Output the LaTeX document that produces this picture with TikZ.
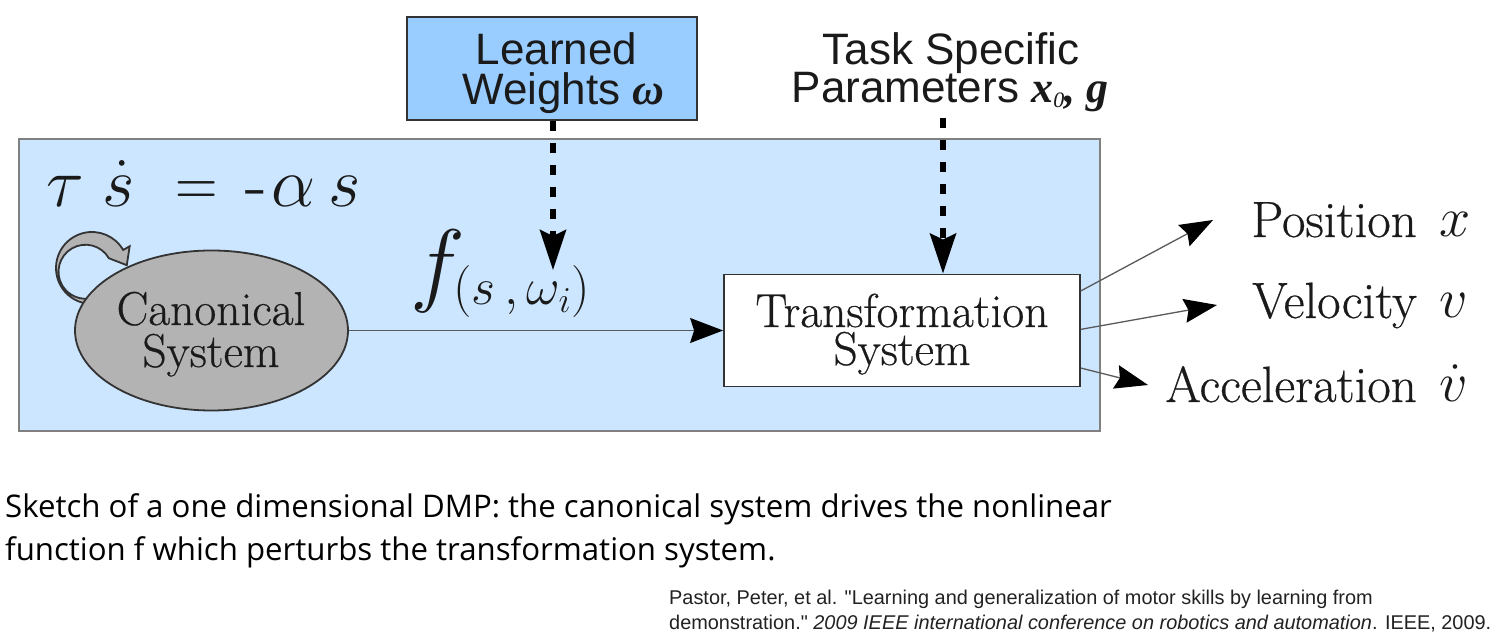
\RequirePackage{fix-cm}
\documentclass[tikz,border=0pt]{standalone}
\usepackage{fontspec}
\usepackage{amsmath}
\usepackage{graphicx}
\usetikzlibrary{arrows.meta,shapes.geometric,calc}
\newfontfamily\arialf{Liberation Sans}
\newfontfamily\timesf{Liberation Serif}
\newfontfamily\capf{Open Sans}
\newfontfamily\lmserif{Latin Modern Roman}[FakeBold=0.5]
\definecolor{bgblue}{HTML}{CCE6FF}
\definecolor{boxblue}{HTML}{99CCFF}
\definecolor{ellgray}{HTML}{B3B3B3}
\definecolor{edgec}{HTML}{333333}
\definecolor{framec}{HTML}{808080}
\definecolor{linec}{HTML}{5A5A5A}
\definecolor{txt}{HTML}{1A1A1A}
\definecolor{reftxt}{HTML}{222222}
\tikzset{
  sanslbl/.style={inner sep=0pt, text=txt, font=\arialf\fontsize{44}{44}\selectfont},
  seriflbl/.style={inner sep=0pt, text=txt, font=\lmserif\fontsize{47.5}{47.5}\selectfont},
  outlbl/.style={inner sep=0pt, text=txt, font=\lmserif\fontsize{51}{51}\selectfont, anchor=base east},
  dasharrow/.style={line width=5.5pt, dash pattern=on 10pt off 12pt, -{Stealth[length=40pt,width=26pt,inset=6pt]}},
  flowarrow/.style={draw=linec, line width=1.3pt, -{Stealth[length=33pt,width=25pt,inset=4pt,color=black]}},
  outarrow/.style={draw=linec, line width=1.3pt, -{Stealth[length=33pt,width=24pt,inset=4pt,color=black]}},
  boxstyle/.style={draw=edgec, line width=1.8pt, inner sep=0pt},
  captxt/.style={inner sep=0pt, anchor=base west, text=black, font=\capf\fontsize{31.2}{31.2}\selectfont},
  reftext/.style={inner sep=0pt, anchor=base west, text=reftxt, font=\arialf\fontsize{19.9}{19.9}\selectfont},
}
\begin{document}
\begin{tikzpicture}[x=1pt,y=1pt]
\useasboundingbox (0,0) rectangle (1502,642);
\fill[white] (0,0) rectangle (1502,642);
% frame
\node[draw=framec, line width=1.5pt, fill=bgblue, minimum width=1081pt, minimum height=292pt, inner sep=0pt, anchor=south west] (frame) at (18,210) {};
% self loop arrow
\path[fill=ellgray, draw=edgec, line width=1.8pt]
  ([shift={(92,374)}]285:36) arc[start angle=285,end angle=30,radius=36]
  -- ([shift={(92,374)}]30:43.5) -- (126.8,376.8) -- ([shift={(92,374)}]30:19.5)
  arc[start angle=30,end angle=285,radius=27] -- cycle;
% canonical system
\node[ellipse, boxstyle, fill=ellgray, minimum width=273pt, minimum height=160pt] (C) at (211.5,311.5) {};
\node[seriflbl, anchor=base] (C1) at (211,317) {Canonical};
\node[seriflbl, anchor=base] (C2) at (211,275) {System};
% transformation system
\node[boxstyle, fill=white, minimum width=356pt, minimum height=112pt] (T) at (902,311.5) {};
\node[seriflbl, anchor=base] (T1) at (902,315) {Transformation};
\node[seriflbl, anchor=base] (T2) at (902,277) {System};
% learned weights
\node[boxstyle, fill=boxblue, minimum width=290pt, minimum height=103pt] (LW) at (552,573.5) {};
\node[sanslbl, anchor=base] (LW1) at (556.5,577) {Learned};
\node[sanslbl, anchor=base] (LW2) at (563.5,537) {Weights {\timesf\bfseries\itshape ω}};
% task specific
\node[sanslbl, anchor=base] (TS1) at (951,577) {Task Specific};
\node[sanslbl, anchor=base] (TS2) at (950,539) {Parameters {\timesf\bfseries\itshape x\raisebox{-5pt}{\mdseries\fontsize{22}{22}\selectfont 0}, g}};
% dashed arrows
\coordinate (wtip) at (553,372);
\draw[dasharrow] (LW.south -| wtip) -- (wtip);
\coordinate (tsout) at (943,524);
\draw[dasharrow] (tsout) -- (T.north -| tsout);
% flow arrow
\draw[flowarrow] (C.east) -- (T.west);
% equations
\node[inner sep=0pt, anchor=base west, text=txt, font=\fontsize{70}{70}\selectfont] (eq) at (46,435)
  {\makebox[56pt][l]{$\tau$}\makebox[73pt][l]{$\dot{s}$}\makebox[70pt][l]{\scalebox{0.84}[1]{$=$}}\makebox[26pt][l]{\lmserif -}\makebox[57pt][l]{$\alpha$}$s$};
\node[inner sep=0pt, anchor=base west, text=txt] (fl) at (410,347) {\fontsize{93}{93}\selectfont$f$\hspace{-12pt}\raisebox{-10pt}{\fontsize{52}{52}\selectfont$(s\,,\omega_{i})$}};
% outputs
\node[outlbl] (P) at (1472,405) {Position\hspace{23pt}\makebox[32pt][l]{\fontsize{56}{56}\selectfont$x$}};
\node[outlbl] (V) at (1472,324) {Velocity\hspace{23pt}\makebox[32pt][l]{\fontsize{56}{56}\selectfont$v$}};
\node[outlbl] (A) at (1472,240) {Acceleration\hspace{23pt}\makebox[32pt][l]{\fontsize{56}{56}\selectfont$\dot{v}$}};
\coordinate (ptip) at (1213,422);
\coordinate (vtip) at (1217,337);
\coordinate (atip) at (1148,257);
\draw[outarrow] ($(T.north east)!0.152!(T.south east)$) -- (ptip);
\draw[outarrow] ($(T.north east)!0.49!(T.south east)$) -- (vtip);
\draw[outarrow] ($(T.north east)!0.83!(T.south east)$) -- (atip);
% caption
\node[captxt] (cap1) at (5,124) {Sketch of a one dimensional DMP: the canonical system drives the nonlinear};
\node[captxt] (cap2) at (5,81) {function f which perturbs the transformation system.};
\node[reftext] (ref1) at (669,37) {Pastor, Peter, et al. "Learning and generalization of motor skills by learning from};
\node[reftext] (ref2) at (669,12) {demonstration." \textit{2009 IEEE international conference on robotics and automation}. IEEE, 2009.};
\end{tikzpicture}
\end{document}
